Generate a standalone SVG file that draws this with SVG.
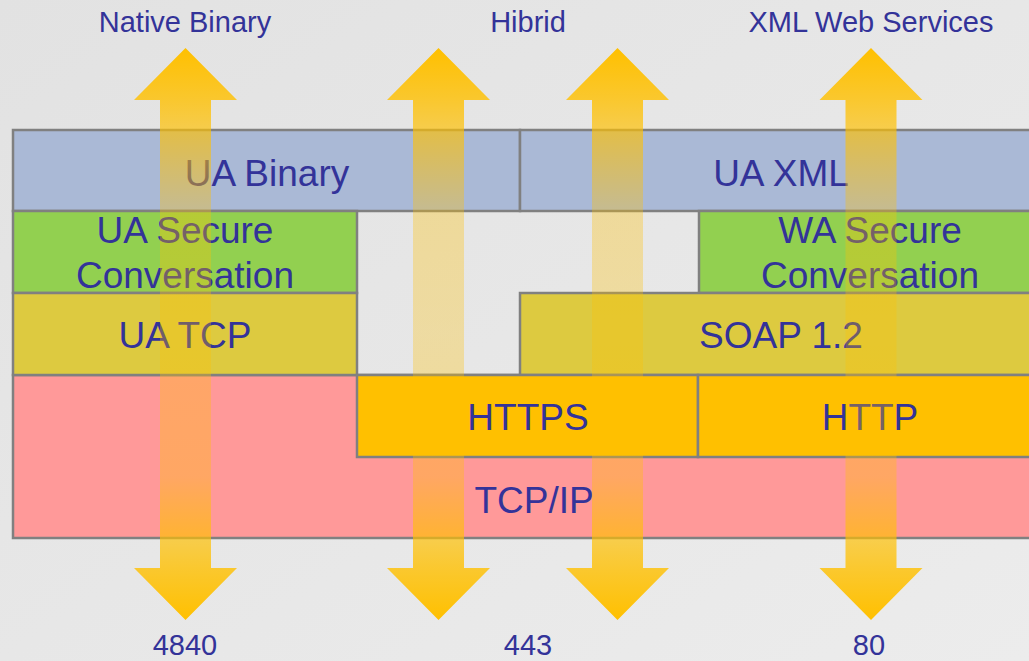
<svg xmlns="http://www.w3.org/2000/svg" width="1029" height="661" viewBox="0 0 1029 661">
<defs>
<linearGradient id="bg" x1="0" y1="0" x2="1" y2="1">
<stop offset="0" stop-color="#e2e2e2"/>
<stop offset="1" stop-color="#ececec"/>
</linearGradient>
<linearGradient id="arr" gradientUnits="userSpaceOnUse" x1="0" y1="48" x2="0" y2="620">
<stop offset="0" stop-color="#ffc000" stop-opacity="1"/>
<stop offset="0.09" stop-color="#ffc000" stop-opacity="0.8"/>
<stop offset="0.15" stop-color="#ffc000" stop-opacity="0.65"/>
<stop offset="0.28" stop-color="#ffc000" stop-opacity="0.33"/>
<stop offset="0.5" stop-color="#ffc000" stop-opacity="0.3"/>
<stop offset="0.75" stop-color="#ffc000" stop-opacity="0.35"/>
<stop offset="0.86" stop-color="#ffc000" stop-opacity="0.68"/>
<stop offset="0.91" stop-color="#ffc000" stop-opacity="0.8"/>
<stop offset="1" stop-color="#ffc000" stop-opacity="1"/>
</linearGradient>
</defs>
<style>
.box{stroke:#808080;stroke-width:2.5}
.blue{fill:#aab9d6}
.green{fill:#92d050}
.olive{fill:#ddca40}
.orange{fill:#ffc000}
.pink{fill:#ff9999}
.t{font-family:"Liberation Sans",Arial,sans-serif;font-size:37px;fill:#333399;text-anchor:middle}
.l{font-family:"Liberation Sans",Arial,sans-serif;font-size:29px;fill:#333399;text-anchor:middle}
.arrow{fill:url(#arr)}
</style>
<rect width="1029" height="661" fill="url(#bg)"/>
<g id="labels">
<text class="l" x="185" y="32">Native Binary</text>
<text class="l" x="528" y="32">Hibrid</text>
<text class="l" x="871" y="32">XML Web Services</text>
<text class="l" x="185" y="655">4840</text>
<text class="l" x="528" y="655">443</text>
<text class="l" x="869" y="655">80</text>
</g>
<g id="tcpip"><rect class="box pink" x="13" y="375" width="1030" height="163"/><text class="t" x="534" y="513">TCP/IP</text></g>
<g id="ua-binary"><rect class="box blue" x="13" y="130" width="507" height="81"/><text class="t" x="267" y="186">UA Binary</text></g>
<g id="ua-xml"><rect class="box blue" x="520" y="130" width="523" height="81"/><text class="t" x="781" y="186">UA XML</text></g>
<g id="ua-secure"><rect class="box green" x="13" y="211" width="344" height="82"/><text class="t" x="185" y="243">UA Secure</text><text class="t" x="185" y="288">Conversation</text></g>
<g id="wa-secure"><rect class="box green" x="699" y="211" width="344" height="82"/><text class="t" x="870" y="243">WA Secure</text><text class="t" x="870" y="288">Conversation</text></g>
<g id="ua-tcp"><rect class="box olive" x="13" y="293" width="344" height="82"/><text class="t" x="185" y="348">UA TCP</text></g>
<g id="soap"><rect class="box olive" x="520" y="293" width="523" height="82"/><text class="t" x="781" y="348">SOAP 1.2</text></g>
<g id="https"><rect class="box orange" x="357" y="375" width="341" height="82"/><text class="t" x="528" y="430">HTTPS</text></g>
<g id="http"><rect class="box orange" x="698" y="375" width="345" height="82"/><text class="t" x="870" y="430">HTTP</text></g>
<g id="connectors">
<path class="arrow" d="M185.5,48 L237,100 L211,100 L211,568 L237,568 L185.5,620 L134,568 L160,568 L160,100 L134,100 Z"/>
<path class="arrow" d="M438.5,48 L490,100 L464,100 L464,568 L490,568 L438.5,620 L387,568 L413,568 L413,100 L387,100 Z"/>
<path class="arrow" d="M617.5,48 L669,100 L643,100 L643,568 L669,568 L617.5,620 L566,568 L592,568 L592,100 L566,100 Z"/>
<path class="arrow" d="M871,48 L922.5,100 L896.5,100 L896.5,568 L922.5,568 L871,620 L819.5,568 L845.5,568 L845.5,100 L819.5,100 Z"/>
</g>
</svg>
